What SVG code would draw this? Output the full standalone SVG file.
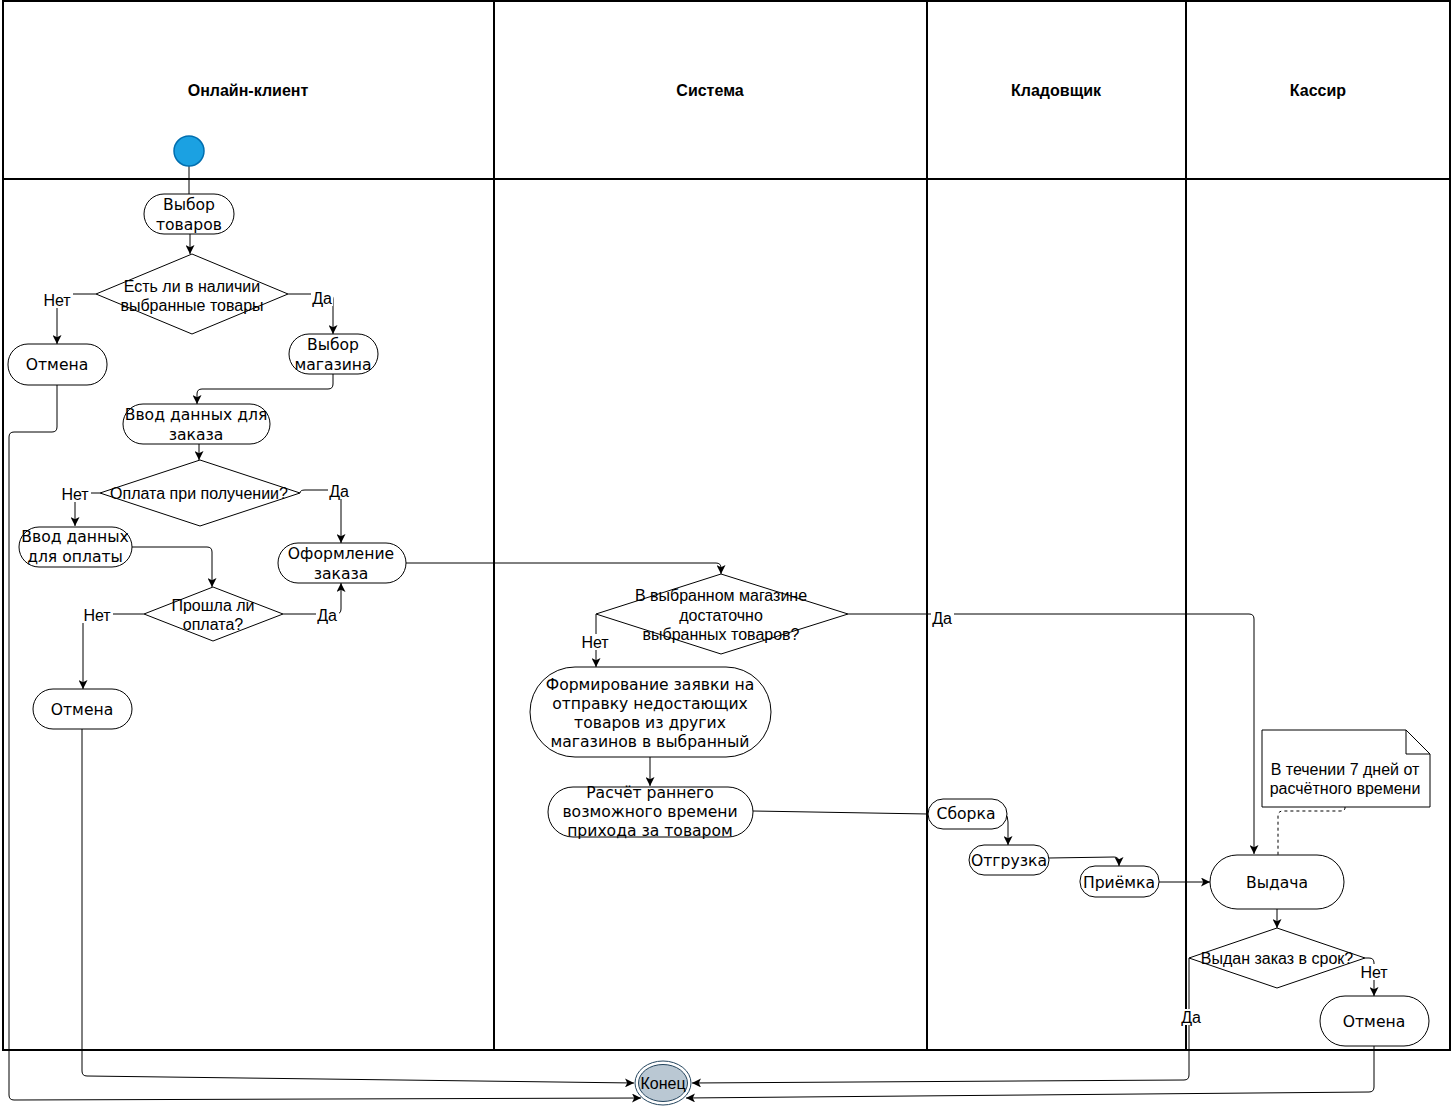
<svg xmlns="http://www.w3.org/2000/svg" width="1452" height="1110" viewBox="0 0 1452 1110">
<defs>
<marker id="arr" viewBox="0 0 10 10" refX="10" refY="5" markerWidth="9" markerHeight="9" orient="auto" markerUnits="userSpaceOnUse">
<path d="M0,0 L10,5 L0,10 L2.5,5 z" fill="#000"/>
</marker>
<style>
.lane{fill:none;stroke:#000;stroke-width:2}
.hdr{font-family:"Liberation Sans",Arial,sans-serif;font-size:16px;font-weight:bold;fill:#000;text-anchor:middle}
.rn{fill:#fff;stroke:#000;stroke-width:1}
.dm{fill:#fff;stroke:#000;stroke-width:1}
.t{font-family:"DejaVu Sans",Verdana,sans-serif;font-size:15.6px;fill:#000;text-anchor:middle}
.td{font-family:"Liberation Sans",Arial,sans-serif;font-size:16px;fill:#000;text-anchor:middle}
.lb{font-family:"Liberation Sans",Arial,sans-serif;font-size:16px;fill:#000;text-anchor:middle}
.lbg{fill:#fff}
.c{fill:none;stroke:#000;stroke-width:1}
.ca{fill:none;stroke:#000;stroke-width:1;marker-end:url(#arr)}
.dash{fill:none;stroke:#000;stroke-width:1;stroke-dasharray:3 3}
</style>
</defs>
<rect x="0" y="0" width="1452" height="1110" fill="#fff"/>
<g id="lanes">
<rect class="lane" x="3" y="1" width="1447" height="1049"/>
<line class="lane" x1="3" y1="179" x2="1450" y2="179"/>
<line class="lane" x1="494" y1="1" x2="494" y2="1050"/>
<line class="lane" x1="927" y1="1" x2="927" y2="1050"/>
<line class="lane" x1="1186" y1="1" x2="1186" y2="1050"/>
<text class="hdr" x="248" y="96">Онлайн-клиент</text>
<text class="hdr" x="710" y="96">Система</text>
<text class="hdr" x="1056" y="96">Кладовщик</text>
<text class="hdr" x="1318" y="96">Кассир</text>
</g>
<g id="connectors">
<path class="c" d="M189,166 V194"/>
<path class="ca" d="M190,234 V254"/>
<path class="ca" d="M96,294 H57 V344"/>
<path class="ca" d="M288,294 H328 Q333,294 333,299 V334"/>
<path class="ca" d="M333,374 V384 Q333,389 328,389 H202 Q197,389 197,394 V404"/>
<path class="ca" d="M199,444 V460"/>
<path class="ca" d="M100,493 H75 V526"/>
<path class="ca" d="M300,493 Q300,490 305,490 H336 Q341,490 341,495 V543"/>
<path class="ca" d="M132,547 H207 Q212,547 212,552 V587"/>
<path class="ca" d="M144,614 H88 Q83,614 83,619 V689"/>
<path class="ca" d="M283,614 H336 Q341,614 341,609 V583"/>
<path class="ca" d="M406,563 H716 Q721,563 721,568 V574"/>
<path class="ca" d="M596,614 V667"/>
<path class="ca" d="M848,614 H1249 Q1254,614 1254,619 V854"/>
<path class="ca" d="M650,757 V786"/>
<path class="c" d="M753,811 L928,814"/>
<path class="ca" d="M1005,813 Q1008,816 1008,822 V845"/>
<path class="ca" d="M1049,858 L1114,857 Q1119,857 1119,862 V866"/>
<path class="ca" d="M1159,882 H1210"/>
<path class="dash" d="M1345,807 V808 Q1345,811 1340,811 H1283 Q1278,811 1278,816 V855"/>
<path class="ca" d="M1277,909 V928"/>
<path class="ca" d="M1365,958 H1369 Q1374,958 1374,963 V996"/>
<path class="ca" d="M1189,958 V1075 Q1189,1080 1184,1080 L692,1083"/>
<path class="ca" d="M1374,1046 V1087 Q1374,1092 1369,1092 L686,1098"/>
<path class="ca" d="M57,385 V427 Q57,432 52,432 H14 Q9,432 9,437 V1095 Q9,1100 14,1100 L641,1098"/>
<path class="ca" d="M82,729 V1071 Q82,1076 87,1076 L634,1083"/>
<rect class="lbg" x="42" y="291" width="31" height="17"/>
<text class="lb" x="57" y="306">Нет</text>
<rect class="lbg" x="311" y="290" width="22" height="16"/>
<text class="lb" x="322" y="304">Да</text>
<rect class="lbg" x="60" y="486" width="31" height="16"/>
<text class="lb" x="75" y="500">Нет</text>
<rect class="lbg" x="328" y="483" width="23" height="16"/>
<text class="lb" x="339" y="497">Да</text>
<rect class="lbg" x="82" y="607" width="31" height="16"/>
<text class="lb" x="97" y="621">Нет</text>
<rect class="lbg" x="316" y="607" width="23" height="16"/>
<text class="lb" x="327" y="621">Да</text>
<rect class="lbg" x="580" y="634" width="31" height="16"/>
<text class="lb" x="595" y="648">Нет</text>
<rect class="lbg" x="931" y="610" width="23" height="16"/>
<text class="lb" x="942" y="624">Да</text>
<rect class="lbg" x="1359" y="964" width="31" height="16"/>
<text class="lb" x="1374" y="978">Нет</text>
<rect class="lbg" x="1180" y="1009" width="23" height="16"/>
<text class="lb" x="1191" y="1023">Да</text>
</g>
<g id="start"><circle cx="189" cy="151" r="15" fill="#1ba1e2" stroke="#006eaf" stroke-width="1.5"/></g>
<g id="n-vybor-tovarov"><rect class="rn" x="144" y="194" width="90" height="40" rx="20"/><text class="t" x="189" y="210">Выбор</text><text class="t" x="189" y="230">товаров</text></g>
<g id="d-nalichie"><polygon class="dm" points="192,254 288,294 192,334 96,294"/><text class="td" x="192" y="292">Есть ли в наличии</text><text class="td" x="192" y="311">выбранные товары</text></g>
<g id="n-otmena1"><rect class="rn" x="8" y="344" width="99" height="41" rx="20"/><text class="t" x="57" y="370">Отмена</text></g>
<g id="n-vybor-magazina"><rect class="rn" x="289" y="334" width="89" height="40" rx="20"/><text class="t" x="333" y="350">Выбор</text><text class="t" x="333" y="370">магазина</text></g>
<g id="n-vvod-zakaz"><rect class="rn" x="123" y="404" width="147" height="40" rx="20"/><text class="t" x="196" y="420">Ввод данных для</text><text class="t" x="196" y="440">заказа</text></g>
<g id="d-oplata-poluch"><polygon class="dm" points="200,460 300,493 200,526 100,493"/><text class="td" x="199" y="499">Оплата при получении?</text></g>
<g id="n-vvod-oplata"><rect class="rn" x="19" y="527" width="113" height="40" rx="20"/><text class="t" x="75" y="542">Ввод данных</text><text class="t" x="75" y="562">для оплаты</text></g>
<g id="n-oformlenie"><rect class="rn" x="278" y="543" width="128" height="40" rx="20"/><text class="t" x="341" y="559">Оформление</text><text class="t" x="341" y="579">заказа</text></g>
<g id="d-proshla"><polygon class="dm" points="213,587 283,614 213,641 144,614"/><text class="td" x="213" y="611">Прошла ли</text><text class="td" x="213" y="630">оплата?</text></g>
<g id="n-otmena2"><rect class="rn" x="33" y="689" width="99" height="40" rx="20"/><text class="t" x="82" y="715">Отмена</text></g>
<g id="d-dostatochno"><polygon class="dm" points="721,574 848,614 721,654 596,614"/><text class="td" x="721" y="601">В выбранном магазине</text><text class="td" x="721" y="621">достаточно</text><text class="td" x="721" y="640">выбранных товаров?</text></g>
<g id="n-formirovanie"><rect class="rn" x="530" y="667" width="241" height="90" rx="45"/><text class="t" x="650" y="690">Формирование заявки на</text><text class="t" x="650" y="709">отправку недостающих</text><text class="t" x="650" y="728">товаров из других</text><text class="t" x="650" y="747">магазинов в выбранный</text></g>
<g id="n-raschet"><rect class="rn" x="548" y="787" width="205" height="50" rx="25"/><text class="t" x="650" y="798">Расчёт раннего</text><text class="t" x="650" y="817">возможного времени</text><text class="t" x="650" y="836">прихода за товаром</text></g>
<g id="n-sborka"><rect class="rn" x="928" y="799" width="79" height="30" rx="15"/><text class="t" x="966" y="819">Сборка</text></g>
<g id="n-otgruzka"><rect class="rn" x="969" y="845" width="80" height="30" rx="15"/><text class="t" x="1009" y="866">Отгрузка</text></g>
<g id="n-priemka"><rect class="rn" x="1080" y="866" width="79" height="31" rx="15"/><text class="t" x="1119" y="888">Приёмка</text></g>
<g id="n-vydacha"><rect class="rn" x="1210" y="855" width="134" height="54" rx="27"/><text class="t" x="1277" y="888">Выдача</text></g>
<g id="note"><path d="M1262,730 H1406 L1430,754 V807 H1262 Z" fill="#fff" stroke="#000" stroke-width="1"/><path d="M1406,730 V754 H1430" fill="none" stroke="#000" stroke-width="1"/><text class="td" x="1345" y="775">В течении 7 дней от</text><text class="td" x="1345" y="794">расчётного времени</text></g>
<g id="d-srok"><polygon class="dm" points="1277,928 1365,958 1277,988 1189,958"/><text class="td" x="1277" y="964">Выдан заказ в срок?</text></g>
<g id="n-otmena3"><rect class="rn" x="1320" y="996" width="109" height="50" rx="25"/><text class="t" x="1374" y="1027">Отмена</text></g>
<g id="end"><ellipse cx="663" cy="1083" rx="28" ry="22" fill="#fff" stroke="#23445d" stroke-width="1"/><ellipse cx="663" cy="1083" rx="24.5" ry="18.5" fill="#bac8d3" stroke="#23445d" stroke-width="1"/><text class="td" x="663" y="1089" font-size="16">Конец</text></g>
</svg>
